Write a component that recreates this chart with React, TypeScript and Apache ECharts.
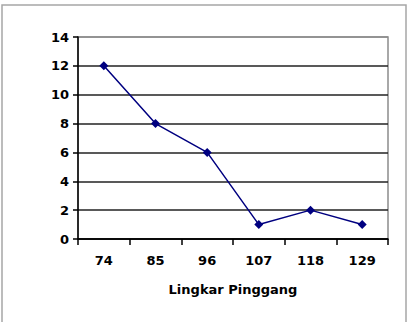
import React, { useEffect, useRef } from "react";
import * as echarts from "echarts";

const categories = ["74", "85", "96", "107", "118", "129"];
const values = [12, 8, 6, 1, 2, 1];
const xAxisTitle = "Lingkar Pinggang";

export default function App() {
  const ref = useRef<HTMLDivElement>(null);
  useEffect(() => {
    if (!ref.current) return;
    const chart = echarts.init(ref.current, null, { renderer: "svg" });
    const font = "'DejaVu Sans', Verdana, sans-serif";
    chart.setOption({
      animation: false,
      backgroundColor: "#ffffff",
      graphic: [
        {
          type: "rect",
          shape: { x: 2, y: 5, width: 404, height: 330 },
          style: { fill: "none", stroke: "#a6a6a6", lineWidth: 1.5 },
          silent: true,
        },
      ],
      grid: {
        left: 78,
        right: 25,
        top: 37,
        bottom: 83,
        containLabel: false,
        show: true,
        borderColor: "#8c8c8c",
        borderWidth: 1.5,
        backgroundColor: "transparent",
      },
      xAxis: {
        type: "category",
        data: categories,
        boundaryGap: true,
        axisLine: { show: true, lineStyle: { color: "#000", width: 1.5 } },
        axisTick: { show: true, alignWithLabel: false, length: 6, lineStyle: { color: "#000", width: 1.5 } },
        axisLabel: { color: "#000", fontFamily: font, fontWeight: "bold", fontSize: 13, margin: 15 },
        name: xAxisTitle,
        nameLocation: "middle",
        nameGap: 44,
        nameTextStyle: { color: "#000", fontFamily: font, fontWeight: "bold", fontSize: 13 },
        splitLine: { show: false },
      },
      yAxis: {
        type: "value",
        min: 0,
        max: 14,
        interval: 2,
        axisLine: { show: true, lineStyle: { color: "#000", width: 1.5 } },
        axisTick: { show: true, length: 5, lineStyle: { color: "#000", width: 1.5 } },
        axisLabel: { color: "#000", fontFamily: font, fontWeight: "bold", fontSize: 13, margin: 9 },
        splitLine: {
          show: true,
          lineStyle: {
            color: ["#000", "#222", "#222", "#222", "#222", "#222", "#222", "#8c8c8c"],
            width: 1.5,
          },
        },
      },
      series: [
        {
          type: "line",
          data: values,
          symbol: "diamond",
          symbolSize: 9,
          lineStyle: { color: "#000080", width: 1.5 },
          itemStyle: { color: "#000080" },
        },
      ],
    });
    return () => chart.dispose();
  }, []);
  return (
    <div
      ref={ref}
      style={{ position: "fixed", left: 0, top: 0, width: 413, height: 322 }}
    />
  );
}
